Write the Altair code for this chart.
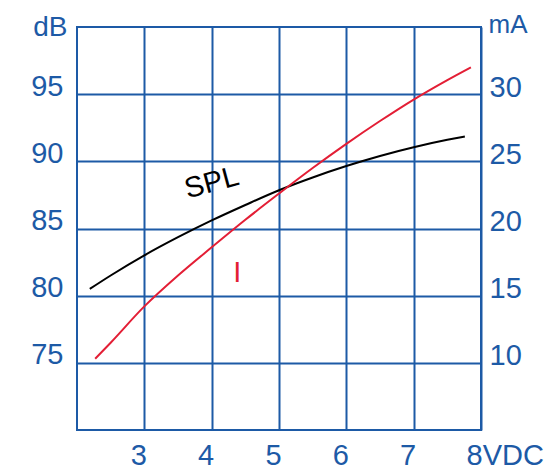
import altair as alt
import pandas as pd

# ---- data ----
volts_spl = [2.19, 2.5, 3.0, 3.5, 4.0, 4.5, 5.0, 5.5, 6.0, 6.5, 7.0, 7.5, 7.76]
spl_db = [80.5, 81.5, 83.0, 84.35, 85.6, 86.75, 87.85, 88.8, 89.65, 90.4, 91.05, 91.6, 91.85]

volts_i = [2.27, 2.5, 3.0, 3.5, 4.0, 4.5, 5.0, 5.5, 6.0, 6.5, 7.0, 7.5, 7.85]
current_ma = [10.3, 11.5, 14.2, 16.5, 18.6, 20.65, 22.6, 24.5, 26.3, 28.0, 29.6, 31.05, 32.0]

x_ticks = [3, 4, 5, 6, 7, 8]
db_ticks = [75, 80, 85, 90, 95]
ma_ticks = [10, 15, 20, 25, 30]

spl_label = ["SPL"]
spl_label_x = [4.0]
spl_label_y = [88.4]
i_label = ["I"]
i_label_x = [4.38]
i_label_y = [81.7]

BLUE = "#1d5aa6"
RED = "#e31e35"
FONT = "Liberation Sans"
FS = 29

spl_df = pd.DataFrame({"V": volts_spl, "val": spl_db})
i_df = pd.DataFrame({"V": volts_i, "val": current_ma})
spl_lab_df = pd.DataFrame({"V": spl_label_x, "val": spl_label_y, "t": spl_label})
i_lab_df = pd.DataFrame({"V": i_label_x, "val": i_label_y, "t": i_label})

x_enc = alt.X(
    "V:Q",
    scale=alt.Scale(domain=[2, 8], nice=False, zero=False),
    axis=alt.Axis(
        values=x_ticks,
        grid=True,
        gridColor=BLUE,
        gridWidth=2,
        gridOpacity=1,
        domain=False,
        ticks=False,
        title=None,
        labelFont=FONT,
        labelFontSize=FS,
        labelColor=BLUE,
        labelPadding=11,
        labelExpr="datum.value == 8 ? '8VDC' : datum.label",
        labelAlign={"condition": {"test": "datum.value == 8", "value": "left"}, "value": "center"},
        labelOffset={"condition": {"test": "datum.value == 8", "value": -15}, "value": -6},
        labelFlush=False,
        labelOverlap=False,
    ),
)

y_left = alt.Y(
    "val:Q",
    scale=alt.Scale(domain=[70, 100], nice=False, zero=False),
    axis=alt.Axis(
        orient="left",
        values=db_ticks,
        grid=True,
        gridColor=BLUE,
        gridWidth=2,
        gridOpacity=1,
        domain=False,
        ticks=False,
        labelFont=FONT,
        labelFontSize=FS,
        labelColor=BLUE,
        labelPadding=14,
        labelOffset=-8,
        labelFlush=False,
        title="dB",
        titleAngle=0,
        titleFont=FONT,
        titleFontSize=28,
        titleFontWeight="normal",
        titleColor=BLUE,
        titleAlign="right",
        titleBaseline="alphabetic",
        titleX=-10,
        titleY=8,
    ),
)

y_right = alt.Y(
    "val:Q",
    scale=alt.Scale(domain=[5, 35], nice=False, zero=False),
    axis=alt.Axis(
        orient="right",
        values=ma_ticks,
        grid=False,
        domain=False,
        ticks=False,
        labelFont=FONT,
        labelFontSize=FS,
        labelColor=BLUE,
        labelPadding=8,
        labelOffset=-7,
        labelFlush=False,
        title="mA",
        titleAngle=0,
        titleFont=FONT,
        titleFontSize=26,
        titleFontWeight="normal",
        titleColor=BLUE,
        titleAlign="left",
        titleBaseline="alphabetic",
        titleX=7,
        titleY=5,
    ),
)

spl_line = alt.Chart(spl_df).mark_line(
    color="black", strokeWidth=2, interpolate="monotone"
).encode(x=x_enc, y=y_left)

spl_text = alt.Chart(spl_lab_df).mark_text(
    font=FONT, fontSize=FS, color="black", angle=345, align="center", baseline="middle"
).encode(x=x_enc, y=y_left, text="t:N")

i_text = alt.Chart(i_lab_df).mark_text(
    font=FONT, fontSize=FS, color=RED, align="center", baseline="middle"
).encode(x=x_enc, y=y_left, text="t:N")

left = alt.layer(spl_line, spl_text, i_text)

i_line = alt.Chart(i_df).mark_line(
    color=RED, strokeWidth=2, interpolate="monotone"
).encode(x=x_enc, y=y_right)

chart = (
    alt.layer(left, i_line)
    .resolve_scale(y="independent")
    .properties(
        width=404,
        height=403,
        autosize=alt.AutoSizeParams(type="none"),
        padding={"left": 69, "top": 19, "right": 70, "bottom": 45},
        background="white",
    )
    .configure_view(stroke=BLUE, strokeWidth=2)
)

chart.save("out.html", embed_options={"renderer": "svg", "actions": False})
